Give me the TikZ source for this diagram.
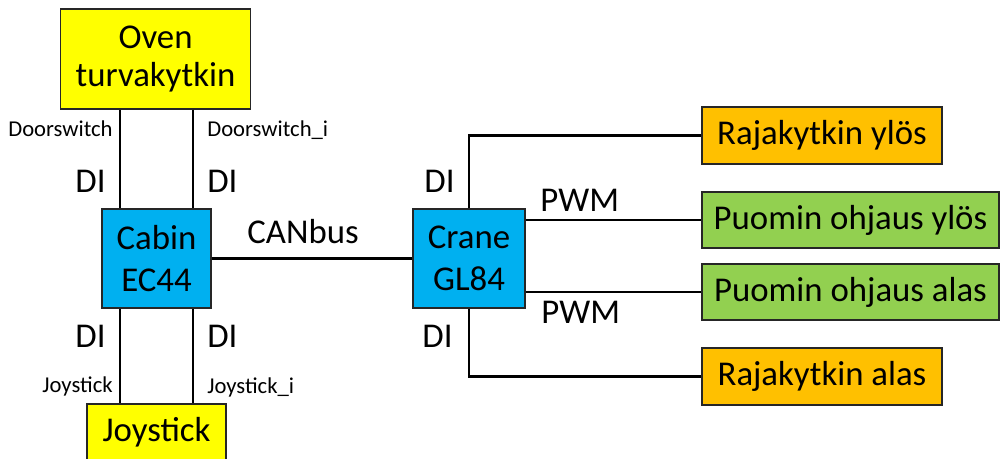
\documentclass[tikz,border=0pt]{standalone}
\usepackage{fontspec}
\setmainfont{Carlito}
\usepackage{tikz}
\usetikzlibrary{positioning}
\definecolor{keltainen}{HTML}{FFFF00}
\definecolor{sininen}{HTML}{00B0F0}
\definecolor{oranssi}{HTML}{FFC000}
\definecolor{vihrea}{HTML}{92D050}

\tikzset{
  laatikko/.style={draw=black!85,line width=0.7pt,inner sep=0pt,align=center,
    font=\fontsize{19.8}{24}\selectfont},
  johto/.style={line width=1.4pt},
  iso/.style={inner sep=0pt,font=\fontsize{19.8}{24}\selectfont},
  pieni/.style={inner sep=0pt,font=\fontsize{12.9}{15}\selectfont}
}

\begin{document}
\begin{tikzpicture}[x=0.02cm,y=-0.02cm]
\useasboundingbox (0,0) rectangle (1000,459);

% ohjaimet
\node[laatikko,fill=keltainen,minimum width=3.8cm,minimum height=2cm,
  font=\fontsize{19.8}{21.8}\selectfont] (oven) at (155.5,59) {Oven\\turvakytkin};
\node[laatikko,fill=sininen,minimum width=2.18cm,minimum height=1.98cm] (cabin) at (156.5,258.5) {Cabin\\EC44};
\node[laatikko,fill=keltainen,minimum width=2.78cm,minimum height=1.12cm] (joy) at (156.5,432) {Joystick};
\node[laatikko,fill=sininen,minimum width=2.24cm,minimum height=1.98cm] (crane) at (469,258.5) {Crane\\GL84};

% toimilaitteet
\node[laatikko,fill=oranssi,minimum width=4.8cm,minimum height=1.14cm] (rajaylos) at (822,135.5) {Rajakytkin ylös};
\node[laatikko,fill=vihrea,minimum width=5.94cm,minimum height=1.12cm] (puomiylos) at (850.5,220) {Puomin ohjaus ylös};
\node[laatikko,fill=vihrea,minimum width=5.94cm,minimum height=1.12cm] (puomialas) at (850.5,292) {Puomin ohjaus alas};
\node[laatikko,fill=oranssi,minimum width=4.8cm,minimum height=1.14cm] (raja_alas) at (822,376.5) {Rajakytkin alas};

% johdot
\foreach \x in {120,193}{ \draw[johto] (\x,0 |- oven.south) -- (\x,0 |- cabin.north); \draw[johto] (\x,0 |- cabin.south) -- (\x,0 |- joy.north); }
\draw[johto] (cabin.east) -- (crane.west);
\draw[johto] (crane.north) |- (rajaylos.west);
\draw[johto] (crane.east |- puomiylos.west) -- (puomiylos.west);
\draw[johto] (crane.east |- puomialas.west) -- (puomialas.west);
\draw[johto] (crane.south) |- (raja_alas.west);

% signaalit
\node[pieni,anchor=base east] (ds) at (113,137) {Doorswitch};
\node[pieni,anchor=base west] (dsi) at (207,137) {Doorswitch\_i};
\node[pieni,anchor=base east] (js) at (113,392) {Joystick};
\node[pieni,anchor=base west] (jsi) at (207,393) {Joystick\_i};
\foreach \y/\n in {193/y,347/a}{ \node[iso,anchor=base east] (di1\n) at (106,\y) {DI}; \node[iso,anchor=base west] (di2\n) at (207,\y) {DI}; }
\node[iso,anchor=base east] (di3y) at (455,193) {DI};
\node[iso,anchor=base east] (di3a) at (453,347) {DI};
\node[iso,anchor=base west] (can) at (247,243) {CANbus};
\node[iso,anchor=base west] (pwm1) at (540,212) {PWM};
\node[iso,anchor=base west] (pwm2) at (541,323) {PWM};
\end{tikzpicture}
\end{document}
